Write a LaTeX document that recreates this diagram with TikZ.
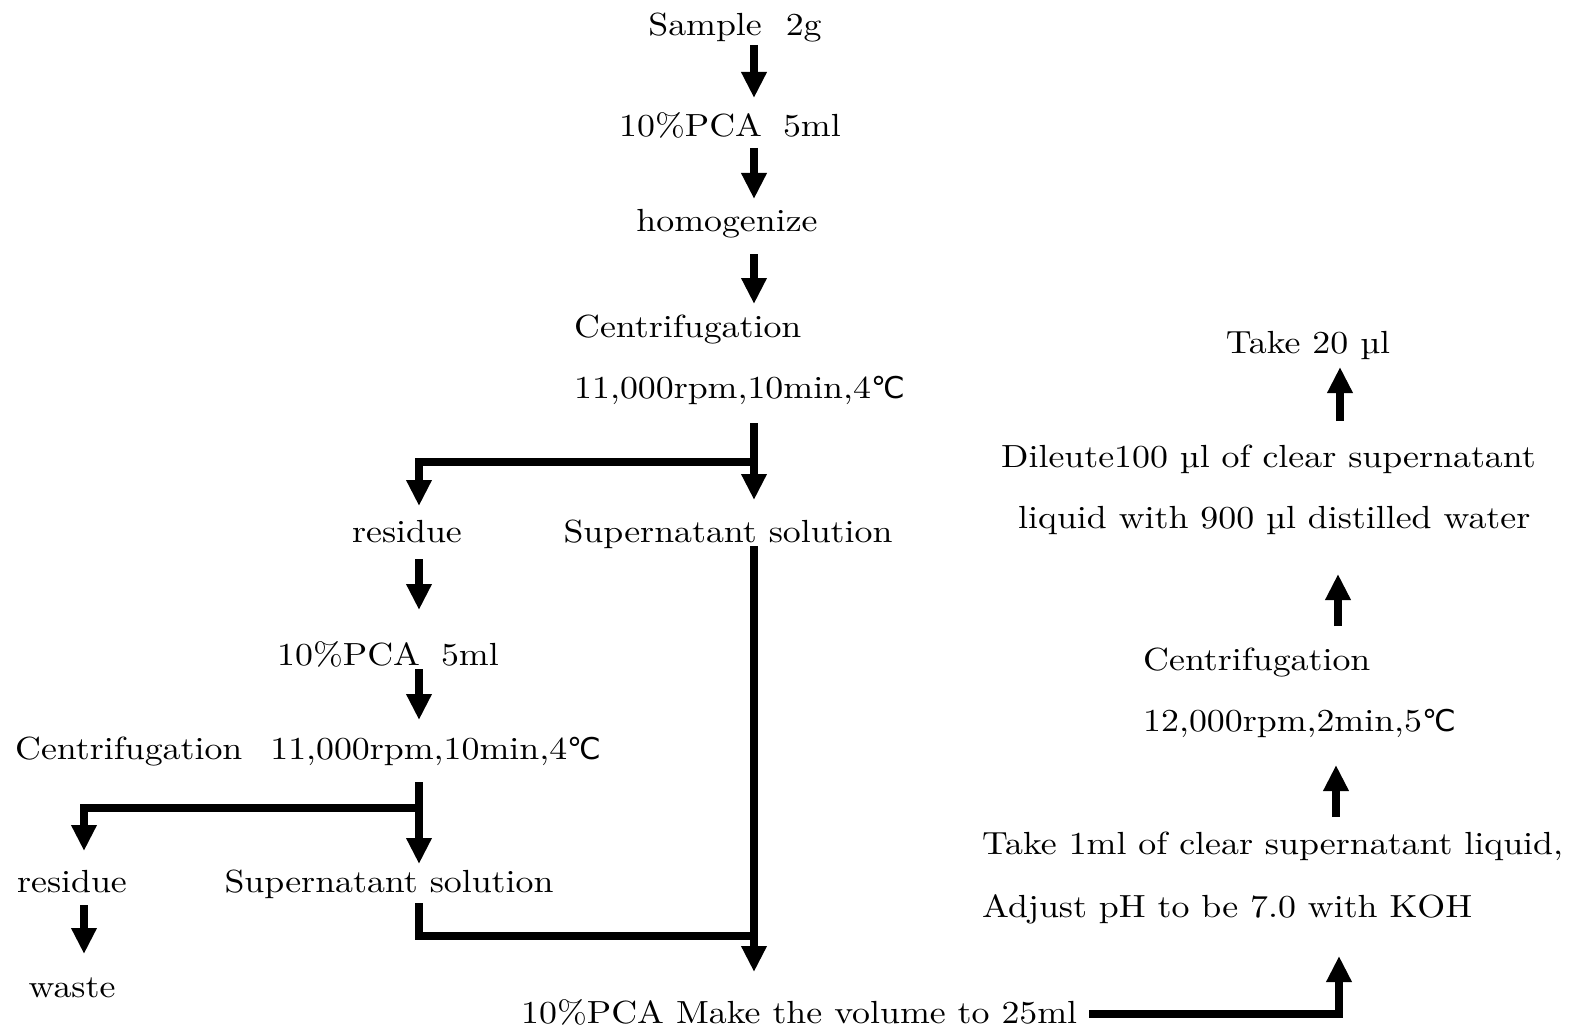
\documentclass[tikz,border=0pt]{standalone}
\usepackage{fontspec}
\setmainfont{lmroman10-regular}[Extension=.otf, FakeStretch=1.12]
\newfontfamily\degfont{DejaVu Sans}
\usetikzlibrary{arrows.meta}
\newcommand{\dgc}{{\degfont\fontsize{30}{32}\selectfont ℃}}
\tikzset{
  txt/.style={inner sep=0pt, anchor=base, font=\fontsize{32}{38}\selectfont},
  txtl/.style={txt, anchor=base west},
  flow/.style={line width=8pt, line join=miter, -{Triangle[width=24pt,length=26pt]}},
  wire/.style={line width=8pt, line join=miter}
}
\begin{document}
\begin{tikzpicture}[x=1pt,y=-1pt]
\useasboundingbox (0,0) rectangle (1578,1032);
% texts
\node[txt] (s) at (735,36) {Sample\hspace{24pt}2g};
\node[txt] (p1) at (730,137) {10\%PCA\hspace{21pt}5ml};
\node[txt] (h) at (727,232) {homogenize};
\node[txtl] (c1) at (574,337) {Centrifugation};
\node[txtl] (c1b) at (574,398) {11,000rpm,10min,4\dgc};
\node[txt] (r1) at (407,542) {residue};
\node[txt] (sp1) at (728,542) {Supernatant solution};
\node[txt] (p2) at (388,665) {10\%PCA\hspace{21pt}5ml};
\node[txtl] (c2) at (15,759) {Centrifugation\hspace{28pt}11,000rpm,10min,4\dgc};
\node[txt] (r2) at (72,892) {residue};
\node[txt] (sp2) at (389,892) {Supernatant solution};
\node[txt] (w) at (72,997) {waste};
\node[txtl] (m) at (521,1023) {10\%PCA Make the volume to 25ml};
\node[txtl] (t1) at (982,854) {Take 1ml of clear supernatant liquid,};
\node[txtl] (t1b) at (982,917) {Adjust pH to be 7.0 with KOH};
\node[txtl] (c3) at (1143,670) {Centrifugation};
\node[txtl] (c3b) at (1143,731) {12,000rpm,2min,5\dgc};
\node[txtl] (d) at (1001,467) {Dileute100 µl of clear supernatant};
\node[txtl] (d2) at (1018,528) {liquid with 900 µl distilled water};
\node[txt] (t20) at (1308,353) {Take 20 µl};
% connector end points
\coordinate (a1s) at (754,45);  \coordinate (a1e) at (754,98);
\coordinate (a2s) at (754,148); \coordinate (a2e) at (754,199);
\coordinate (a3s) at (754,254); \coordinate (a3e) at (754,304);
\coordinate (b1s) at (754,423); \coordinate (b1e) at (754,500);
\coordinate (b1j) at (754,462); \coordinate (b1l) at (419,506);
\coordinate (ls) at (754,546);  \coordinate (le) at (754,972);
\coordinate (a4s) at (419,559); \coordinate (a4e) at (419,610);
\coordinate (a5s) at (419,669); \coordinate (a5e) at (419,720);
\coordinate (b2s) at (419,782); \coordinate (b2e) at (419,864);
\coordinate (b2j) at (419,808); \coordinate (b2l) at (84,851);
\coordinate (a6s) at (84,905);  \coordinate (a6e) at (84,954);
\coordinate (j2s) at (419,903); \coordinate (j2e) at (754,936);
\coordinate (rs) at (1089,1014); \coordinate (re) at (1339,956);
\coordinate (u1s) at (1336,817); \coordinate (u1e) at (1336,765);
\coordinate (u2s) at (1338,626); \coordinate (u2e) at (1338,574);
\coordinate (u3s) at (1340,421); \coordinate (u3e) at (1340,367);
% connectors
\draw[flow] (a1s) -- (a1e);
\draw[flow] (a2s) -- (a2e);
\draw[flow] (a3s) -- (a3e);
\draw[flow] (b1s) -- (b1e);
\draw[flow] (b1j) -| (b1l);
\draw[flow] (ls) -- (le);
\draw[flow] (a4s) -- (a4e);
\draw[flow] (a5s) -- (a5e);
\draw[flow] (b2s) -- (b2e);
\draw[flow] (b2j) -| (b2l);
\draw[flow] (a6s) -- (a6e);
\draw[wire] (j2s) |- (j2e);
\draw[flow] (rs) -| (re);
\draw[flow] (u1s) -- (u1e);
\draw[flow] (u2s) -- (u2e);
\draw[flow] (u3s) -- (u3e);
\end{tikzpicture}
\end{document}
